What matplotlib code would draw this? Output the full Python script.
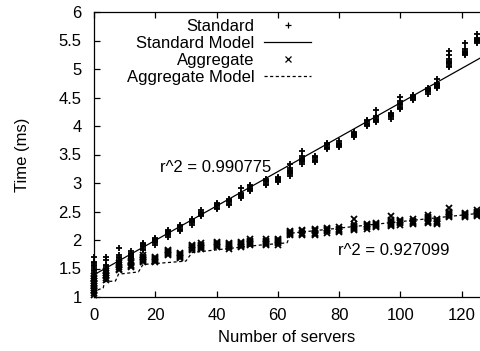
import matplotlib
matplotlib.use("Agg")
import matplotlib.pyplot as plt

plt.rcParams['font.family'] = ['Liberation Sans', 'DejaVu Sans']
plt.rcParams['font.size'] = 12

# server counts where measurements were taken
servers = [0, 4, 8, 12, 16, 20, 24, 28, 32, 35, 40, 44, 48, 51, 56, 60,
           64, 68, 72, 76, 80, 85, 89, 92, 97, 100, 104, 109, 112, 116, 121, 125]

# measured times (ms), one list per server count
standard = [
    [1.42, 1.45, 1.48, 1.51, 1.54, 1.57, 1.60, 1.62, 1.71],
    [1.36, 1.39, 1.42, 1.45, 1.48, 1.51, 1.54, 1.57, 1.65, 1.70],
    [1.53, 1.56, 1.59, 1.62, 1.65, 1.68, 1.71, 1.74, 1.86],
    [1.68, 1.70, 1.72, 1.74, 1.76, 1.78, 1.80],
    [1.83, 1.85, 1.87, 1.89, 1.91, 1.93, 1.95],
    [1.92, 1.94, 1.96, 1.98, 2.00, 2.02, 2.04],
    [2.06, 2.08, 2.10, 2.12, 2.14, 2.16, 2.18],
    [2.16, 2.18, 2.20, 2.22, 2.24, 2.26],
    [2.27, 2.29, 2.31, 2.33, 2.35, 2.37],
    [2.42, 2.44, 2.46, 2.48, 2.50, 2.52],
    [2.55, 2.57, 2.59, 2.61, 2.63, 2.65],
    [2.62, 2.64, 2.66, 2.68, 2.70, 2.72],
    [2.73, 2.75, 2.77, 2.79, 2.81, 2.83, 2.92],
    [2.86, 2.88, 2.90, 2.92, 2.94, 2.96],
    [2.97, 2.99, 3.01, 3.03, 3.05, 3.07],
    [3.01, 3.03, 3.05, 3.07, 3.09, 3.11],
    [3.13, 3.15, 3.17, 3.19, 3.21, 3.23, 3.26, 3.33],
    [3.34, 3.36, 3.38, 3.40, 3.42, 3.44, 3.47, 3.57],
    [3.37, 3.39, 3.41, 3.43, 3.45, 3.47],
    [3.60, 3.62, 3.64, 3.66, 3.68, 3.70],
    [3.63, 3.65, 3.67, 3.69, 3.71, 3.73],
    [3.80, 3.82, 3.84, 3.86, 3.88, 3.90],
    [4.00, 4.02, 4.04, 4.06, 4.08, 4.10],
    [4.07, 4.09, 4.11, 4.13, 4.15, 4.17, 4.28],
    [4.13, 4.15, 4.17, 4.19, 4.21, 4.23],
    [4.30, 4.32, 4.34, 4.36, 4.38, 4.40, 4.43, 4.51],
    [4.45, 4.47, 4.49, 4.51, 4.53, 4.55],
    [4.57, 4.59, 4.61, 4.63, 4.65, 4.67],
    [4.66, 4.68, 4.70, 4.72, 4.74, 4.76, 4.82],
    [5.04, 5.06, 5.08, 5.10, 5.12, 5.14, 5.17, 5.25, 5.31],
    [5.24, 5.26, 5.28, 5.30, 5.32, 5.35, 5.45],
    [5.45, 5.47, 5.49, 5.51, 5.53, 5.55, 5.61],
]

aggregate = [
    [1.04, 1.07, 1.10, 1.13, 1.16, 1.19, 1.22, 1.25, 1.28, 1.31, 1.34, 1.37],
    [1.30, 1.33, 1.36, 1.39, 1.42, 1.45],
    [1.47, 1.50, 1.53, 1.56, 1.59],
    [1.53, 1.55, 1.57, 1.59, 1.61, 1.63],
    [1.61, 1.63, 1.65, 1.67, 1.69, 1.71, 1.73],
    [1.61, 1.63, 1.65, 1.67, 1.69, 1.71],
    [1.73, 1.75, 1.77, 1.79, 1.81, 1.83],
    [1.68, 1.70, 1.72, 1.74, 1.76, 1.78],
    [1.82, 1.84, 1.86, 1.88, 1.90, 1.92],
    [1.84, 1.86, 1.88, 1.90, 1.92, 1.94],
    [1.87, 1.89, 1.91, 1.93, 1.95, 1.97],
    [1.85, 1.87, 1.89, 1.91, 1.93, 1.95],
    [1.87, 1.89, 1.91, 1.93, 1.95, 1.97],
    [1.91, 1.93, 1.95, 1.97, 1.99, 2.01],
    [1.91, 1.93, 1.95, 1.97, 1.99, 2.01],
    [1.92, 1.94, 1.96, 1.98, 2.00, 2.02],
    [2.08, 2.10, 2.12, 2.14, 2.16],
    [2.09, 2.11, 2.13, 2.15, 2.17],
    [2.09, 2.11, 2.13, 2.15, 2.17, 2.19],
    [2.13, 2.15, 2.17, 2.19, 2.21],
    [2.14, 2.16, 2.18, 2.20, 2.22],
    [2.17, 2.19, 2.21, 2.23, 2.25, 2.28, 2.37],
    [2.20, 2.22, 2.24, 2.26, 2.28],
    [2.22, 2.24, 2.26, 2.28, 2.30],
    [2.24, 2.26, 2.28, 2.30, 2.32, 2.35, 2.42],
    [2.27, 2.29, 2.31, 2.33, 2.35],
    [2.28, 2.30, 2.32, 2.34, 2.36],
    [2.30, 2.32, 2.34, 2.36, 2.38, 2.40, 2.44],
    [2.28, 2.30, 2.32, 2.34, 2.36],
    [2.40, 2.42, 2.44, 2.46, 2.48, 2.50, 2.56],
    [2.40, 2.42, 2.44, 2.46, 2.48],
    [2.42, 2.44, 2.46, 2.48, 2.50, 2.52],
]

# fitted models
std_model_x = [0, 126]
std_model_y = [1.39, 5.19]
agg_model_x = [0, 1, 3, 3.5, 7, 8, 14.5, 16, 30, 32, 54, 63, 64.4, 126]
agg_model_y = [1.05, 1.12, 1.16, 1.27, 1.28, 1.40, 1.44, 1.57, 1.63, 1.78,
               1.91, 1.95, 2.12, 2.47]

std_r2 = "r^2 = 0.990775"
agg_r2 = "r^2 = 0.927099"

std_x, std_y = [], []
for s, vals in zip(servers, standard):
    std_x += [s] * len(vals)
    std_y += vals
agg_x, agg_y = [], []
for s, vals in zip(servers, aggregate):
    agg_x += [s] * len(vals)
    agg_y += vals

fig = plt.figure(figsize=(4.8, 3.51), dpi=100)
ax = fig.add_axes([94 / 480, 54 / 351, 386 / 480, 285 / 351])

h1, = ax.plot(std_x, std_y, '+', color='black', ms=4.5, mew=1.3,
              linestyle='none', label='Standard', clip_on=False)
h2, = ax.plot(std_model_x, std_model_y, '-', color='black', lw=0.9,
              label='Standard Model')
h3, = ax.plot(agg_x, agg_y, 'x', color='black', ms=3.8, mew=1.3,
              linestyle='none', label='Aggregate', clip_on=False)
h4, = ax.plot(agg_model_x, agg_model_y, color='black', lw=0.9,
              linestyle=(0, (2.5, 2)), label='Aggregate Model')

ax.text(21.5, 3.28, std_r2, ha='left', va='center')
ax.text(79.6, 1.81, agg_r2, ha='left', va='center')

ax.set_xlim(0, 126)
ax.set_ylim(1, 6)
ax.set_xticks(range(0, 121, 20))
ax.set_yticks([1, 1.5, 2, 2.5, 3, 3.5, 4, 4.5, 5, 5.5, 6])
ax.set_yticklabels(['1', '1.5', '2', '2.5', '3', '3.5', '4', '4.5', '5', '5.5', '6'])
ax.tick_params(direction='in', length=4, width=0.9, top=True, right=False)
ax.tick_params(axis='x', pad=8)
ax.tick_params(axis='y', pad=9)
for sp in ax.spines.values():
    sp.set_linewidth(0.9)
ax.spines['right'].set_visible(False)

ax.set_xlabel('Number of servers')
ax.set_ylabel('Time (ms)')
ax.xaxis.set_label_coords(0.5, -0.115)
ax.yaxis.set_label_coords(-0.165, 0.5)

# legend markers stay thin like the reference key
leg = ax.legend(handles=[h1, h2, h3, h4], loc='upper right',
                bbox_to_anchor=(0.562, 0.977), frameon=False, markerfirst=False,
                handlelength=2.8, handletextpad=0.6, labelspacing=0.12,
                borderpad=0, borderaxespad=0)
for lh in leg.legend_handles:
    lh.set_markeredgewidth(0.9)
    lh.set_markersize(4)

fig.savefig('out.png', dpi=100)
